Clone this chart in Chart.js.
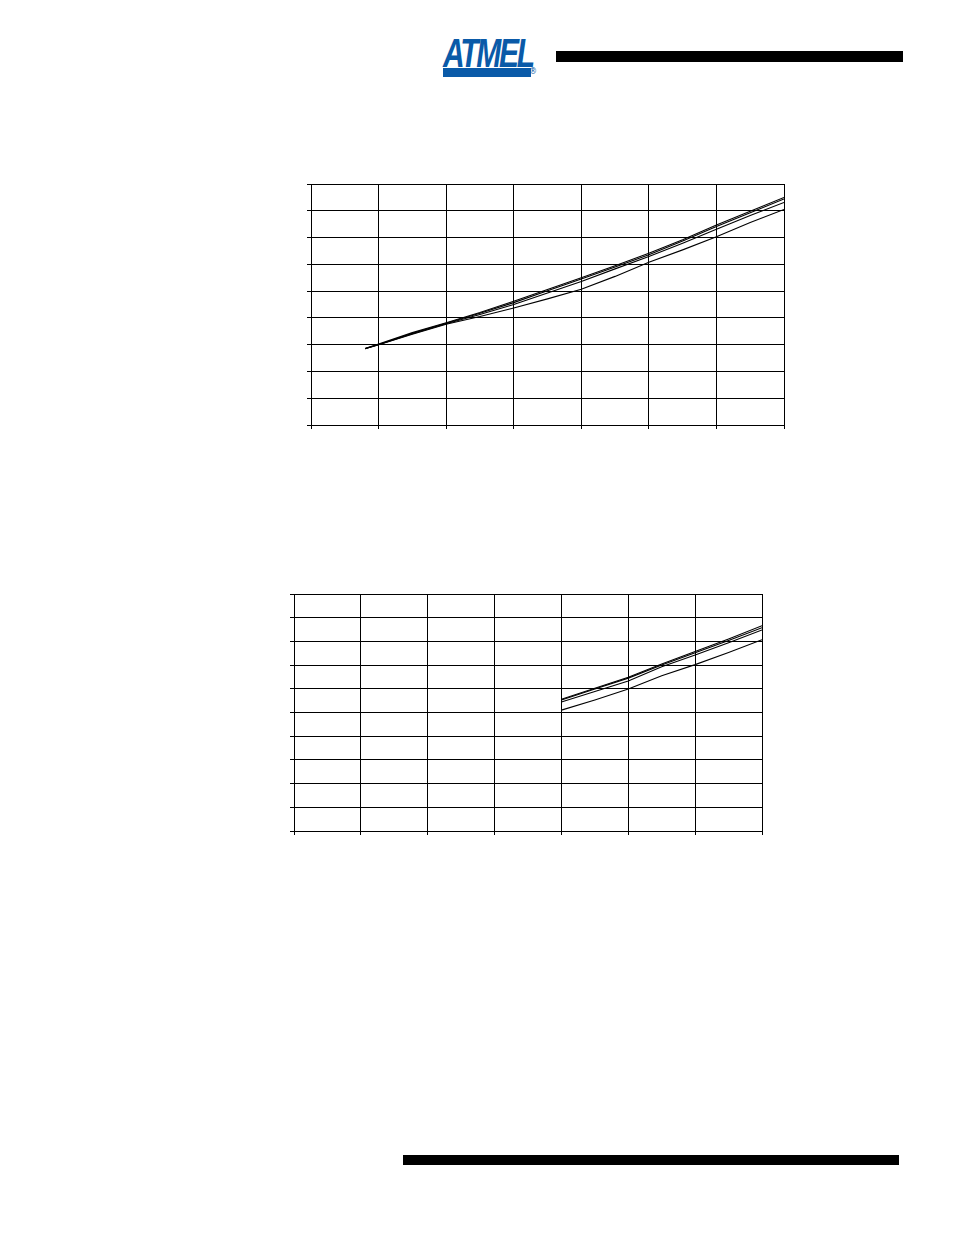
<!DOCTYPE html>
<html>
<head>
<meta charset="utf-8">
<title>Atmel chart page</title>
<script src="https://cdn.jsdelivr.net/npm/chart.js@4/dist/chart.umd.min.js"></script>
<style>
    body { margin: 0; background: #fff; width: 954px; height: 1235px; position: relative; overflow: hidden; }
    .logo { position: absolute; left: 443px; top: 33px; width: 92px; height: 46px; }
    .logo .word { position: absolute; left: 0; top: 0; font-family: "Liberation Sans", Arial, sans-serif; font-weight: bold; font-style: italic;
        font-size: 40px; line-height: 40px; color: #0a5aa8; letter-spacing: -3px; transform: scaleX(0.75); transform-origin: left top; white-space: nowrap; }
    .logo .bar { position: absolute; left: 0; top: 35px; width: 88px; height: 9px; background: #0a5aa8; }
    .logo .reg { position: absolute; left: 86px; top: 34px; font-family: "DejaVu Sans", sans-serif; font-size: 8px; color: #0a5aa8; }
    .rule { position: absolute; background: #000; }
    canvas { position: absolute; }
</style>
</head>
<body>
<div class="logo"><span class="word">ATMEL</span><div class="bar"></div><span class="reg">®</span></div>
<div class="rule" style="left:556px; top:51px; width:347px; height:11px;"></div>
<div class="rule" style="left:403px; top:1155px; width:496px; height:10px;"></div>

<canvas id="chart_top" width="495" height="260" style="left:300px; top:175px;"></canvas>
<canvas id="chart_bottom" width="490" height="260" style="left:284px; top:584px;"></canvas>

<script>
// top chart: x in grid units 0..7, y 0..9
var top_x = [0.8, 1, 1.5, 2, 2.5, 3, 3.5, 4, 4.5, 5, 5.5, 6, 6.5, 7];
var top_s1 = [2.86, 3.02, 3.45, 3.82, 4.20, 4.62, 5.06, 5.50, 5.95, 6.41, 6.92, 7.47, 7.98, 8.50];
var top_s2 = [2.86, 3.01, 3.43, 3.80, 4.17, 4.57, 5.01, 5.45, 5.90, 6.36, 6.87, 7.41, 7.93, 8.44];
var top_s3 = [2.85, 3.00, 3.41, 3.78, 4.13, 4.50, 4.93, 5.36, 5.83, 6.29, 6.79, 7.31, 7.82, 8.31];
var top_s4 = [2.85, 3.00, 3.39, 3.76, 4.05, 4.37, 4.71, 5.07, 5.55, 6.08, 6.54, 7.03, 7.56, 8.05];

// bottom chart: x 0..7, y 0..10
var bottom_x = [4, 4.5, 5, 5.5, 6, 6.5, 7];
var bottom_s1 = [5.56, 6.02, 6.49, 7.05, 7.57, 8.10, 8.66];
var bottom_s2 = [5.53, 5.99, 6.45, 7.00, 7.52, 8.04, 8.58];
var bottom_s3 = [5.44, 5.89, 6.33, 6.93, 7.43, 7.94, 8.48];
var bottom_s4 = [5.10, 5.53, 5.99, 6.55, 7.02, 7.53, 8.07];

function to_points(xs, ys) {
    return xs.map(function (x, i) { return { x: x, y: ys[i] }; });
}

function drawing_chart(id, xs, series, ymax, padding) {
    var ctx = document.getElementById(id).getContext('2d');
    var datasets = series.map(function (ys) {
        return {
            data: to_points(xs, ys),
            borderColor: '#000',
            borderWidth: 1.1,
            pointRadius: 0,
            tension: 0,
            fill: false
        };
    });
    return new Chart(ctx, {
        type: 'line',
        data: { datasets: datasets },
        options: {
            responsive: false,
            animation: false,
            devicePixelRatio: 1,
            layout: { padding: padding },
            plugins: { legend: { display: false }, tooltip: { enabled: false } },
            scales: {
                x: {
                    type: 'linear',
                    min: 0,
                    max: 7,
                    ticks: { display: false, stepSize: 1 },
                    grid: { color: '#000', lineWidth: 1, tickLength: 4 },
                    border: { color: '#000', width: 1 }
                },
                y: {
                    min: 0,
                    max: ymax,
                    ticks: { display: false, stepSize: 1 },
                    grid: { color: '#000', lineWidth: 1, tickLength: 4 },
                    border: { color: '#000', width: 1 }
                }
            }
        }
    });
}

drawing_chart('chart_top', top_x, [top_s1, top_s2, top_s3, top_s4], 9,
    { left: 7, right: 11, top: 9, bottom: 6 });
drawing_chart('chart_bottom', bottom_x, [bottom_s1, bottom_s2, bottom_s3, bottom_s4], 10,
    { left: 6, right: 12, top: 10, bottom: 9 });
</script>
</body>
</html>
